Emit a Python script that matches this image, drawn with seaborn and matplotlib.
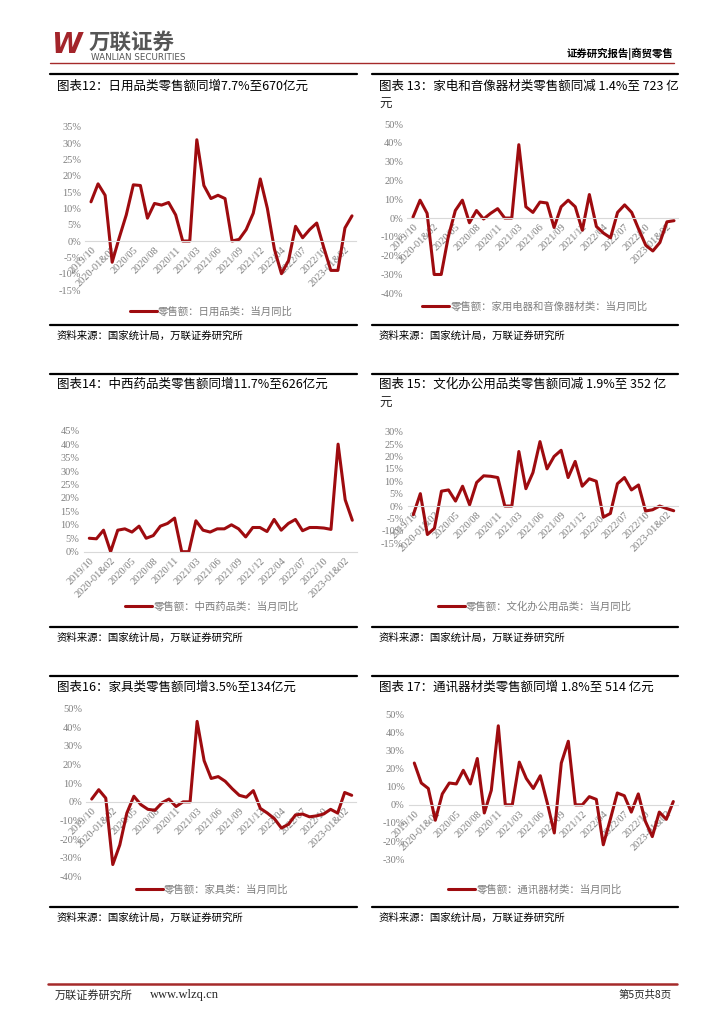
import numpy as np
import pandas as pd
import matplotlib
matplotlib.use('Agg')
import matplotlib.pyplot as plt
from matplotlib.lines import Line2D
import seaborn as sns

sns.set_theme(style="white")
plt.rcParams['font.family'] = ['Noto Sans CJK SC', 'DejaVu Sans']
plt.rcParams['axes.unicode_minus'] = False

W, H = 724, 1024
RED = '#9E0B0F'
GREY = '#7F7F7F'
SERIF = 'Liberation Serif'

# month categories (Jan & Feb merged)
months = ['2019/10', '2019/11', '2019/12',
          '2020-01&02', '2020/03', '2020/04', '2020/05', '2020/06', '2020/07',
          '2020/08', '2020/09', '2020/10', '2020/11', '2020/12',
          '2021-01&02', '2021/03', '2021/04', '2021/05', '2021/06', '2021/07',
          '2021/08', '2021/09', '2021/10', '2021/11', '2021/12',
          '2022-01&02', '2022/03', '2022/04', '2022/05', '2022/06', '2022/07',
          '2022/08', '2022/09', '2022/10', '2022/11', '2022/12',
          '2023-01&02', '2023/03']
tick_labels = months[::3]

# monthly yoy, %
daily = [12, 17.5, 14, -6.5, 1, 8, 17.2, 17, 7, 11.5, 11, 11.8, 8, 0, 0, 31,
         17, 13, 14, 13, 0, 0.5, 3.5, 8.5, 19, 10, -2.5, -10, -6, 4.5, 1, 3.5,
         5.5, -2, -9, -9, 4, 7.7]
appliance = [0.5, 9.5, 2.5, -30, -30, -10, 4, 9.5, -2.5, 4, -0.5, 2.5, 5, 0, 0,
             39, 6, 3, 8.5, 8, -5, 6, 9.5, 6, -6.5, 12.5, -4.5, -8, -10.5, 3, 7,
             3, -6, -14.5, -17.5, -13, -2, -1.4]
medicine = [5, 4.8, 8, 0, 8, 8.5, 7.3, 9.5, 5, 6, 9.5, 10.5, 12.5, 0, 0, 11.5,
            8, 7.3, 8.5, 8.5, 10, 8.5, 5.5, 9, 9, 7.5, 12, 8, 10.5, 12, 7.8, 9,
            9, 8.8, 8.3, 40, 19.3, 11.7]
office = [-3.5, 5, -11.5, -9, 6, 6.5, 2, 8, 0.5, 9.5, 12.2, 12, 11.5, 0, 0, 22,
          7, 13.5, 26, 15, 20, 22.5, 11.5, 18, 8, 11, 10, -4.5, -3, 9, 11.5,
          6.5, 8.5, -2, -1.5, 0, -1, -1.9]
furniture = [1.5, 6.5, 2, -33.5, -23, -6, 3, -1.5, -4, -4.5, -0.5, 1.5, -2.5, 0,
             0, 43, 22, 12.5, 13.5, 11, 7, 3.5, 2.5, 6, -3.5, -6, -9, -14, -12,
             -7, -6.5, -8, -7.5, -6.5, -4, -6, 5, 3.5]
telecom = [23, 12, 9, -8.5, 6, 12, 11.5, 19, 11.5, 25.5, -4.5, 8, 43.5, 0, 0,
           23.5, 14.5, 9, 16, 1, -15.5, 23, 35, 0, 0, 4.5, 3, -22, -8, 6.5, 5,
           -4, 6, -9, -17.5, -4, -8, 1.8]

titles = ['图表12：日用品类零售额同增7.7%至670亿元',
          '图表 13：家电和音像器材类零售额同减 1.4%至 723 亿',
          '图表14：中西药品类零售额同增11.7%至626亿元',
          '图表 15：文化办公用品类零售额同减 1.9%至 352 亿',
          '图表16：家具类零售额同增3.5%至134亿元',
          '图表 17：通讯器材类零售额同增 1.8%至 514 亿元']
legends = ['零售额：日用品类：当月同比',
           '零售额：家用电器和音像器材类：当月同比',
           '零售额：中西药品类：当月同比',
           '零售额：文化办公用品类：当月同比',
           '零售额：家具类：当月同比',
           '零售额：通讯器材类：当月同比']
source = '资料来源：国家统计局，万联证券研究所'

XMIN, XMAX = -0.8, 37.6

fig = plt.figure(figsize=(W / 100, H / 100), dpi=100)
fig.patch.set_facecolor('white')


def fy(y):
    return 1 - y / H


def hline(x0, x1, y, color='black', lw=1.6):
    fig.add_artist(Line2D([x0 / W, x1 / W], [fy(y), fy(y)],
                          transform=fig.transFigure, color=color, lw=lw))


def chart(values, x_first, x_last, ylo, yhi, ystep, top_px, bot_px,
          legend, leg_xy):
    n = len(months)
    step = (x_last - x_first) / (n - 1)
    left = x_first + XMIN * step
    right = x_first + XMAX * step
    ax = fig.add_axes([left / W, fy(bot_px), (right - left) / W,
                       (bot_px - top_px) / H])
    df = pd.DataFrame({'idx': np.arange(n), 'val': values})
    sns.lineplot(data=df, x='idx', y='val', ax=ax, color=RED, linewidth=2.2,
                 label=legend)
    # spine position first: it resets the ticks
    for s in ['top', 'right', 'left']:
        ax.spines[s].set_visible(False)
    ax.spines['bottom'].set_position(('data', 0))
    ax.spines['bottom'].set_color('#D9D9D9')
    ax.spines['bottom'].set_linewidth(0.8)
    ax.set_xlim(XMIN, XMAX)
    ax.set_ylim(ylo, yhi)
    yt = list(range(ylo, yhi + 1, ystep))
    ax.set_yticks(yt)
    ax.set_yticklabels([f'{v}%' for v in yt], fontfamily=SERIF, color=GREY,
                       fontsize=7.5)
    ax.set_xticks(np.arange(0, n, 3))
    ax.set_xticklabels(tick_labels, rotation=45, ha='right',
                       rotation_mode='anchor', fontfamily=SERIF, color=GREY,
                       fontsize=7.5)
    ax.tick_params(length=0, pad=3)
    ax.set_xlabel('')
    ax.set_ylabel('')
    ax.patch.set_alpha(0)
    ax.legend(loc='center', bbox_to_anchor=(leg_xy[0] / W, fy(leg_xy[1])),
              bbox_transform=fig.transFigure, frameon=False, fontsize=7.5,
              handlelength=2.6, handletextpad=0.1, labelcolor=GREY)
    return ax


# header
fig.text(51 / W, fy(45), 'W', fontsize=20, fontweight='bold', style='italic',
         color='#A3242A', family='DejaVu Sans', va='center', ha='left')
fig.text(89 / W, fy(42), '万联证券', fontsize=15.5, fontweight='bold',
         color='#555555', va='center', ha='left')
fig.text(91 / W, fy(57.5), 'WANLIAN SECURITIES', fontsize=6.3,
         color='#555555', family='DejaVu Sans', va='center', ha='left')
fig.text(673 / W, fy(54), '证券研究报告|商贸零售', fontsize=7.5,
         fontweight='bold', color='black', va='center', ha='right')
hline(50, 674, 62.7, color='#A52A2A', lw=1.0)

# panel frames
L0, L1, R0, R1 = 50, 357, 372, 678
rows = [(73.5, 86, 325, 336), (374, 384, 627, 638), (676, 687, 907, 918)]
for i, (top, ty, bot, sy) in enumerate(rows):
    for j, (x0, x1) in enumerate([(L0, L1), (R0, R1)]):
        hline(x0, x1, top)
        hline(x0, x1, bot)
        fig.text((x0 + 7) / W, fy(ty), titles[2 * i + j], fontsize=9,
                 va='center', ha='left', color='black')
        fig.text((x0 + 7) / W, fy(sy), source, fontsize=7.5, style='italic',
                 va='center', ha='left', color='black')
fig.text(379 / W, fy(104), '元', fontsize=9, va='center', ha='left')
fig.text(379 / W, fy(403), '元', fontsize=9, va='center', ha='left')

# charts
chart(daily, 91, 352, -15, 35, 5, 126.7, 290, legends[0], (211, 311.7))
chart(appliance, 413, 674, -40, 50, 10, 124, 293.3, legends[1], (535, 306.7))
chart(medicine, 89.3, 352.3, 0, 45, 5, 430.7, 551.7, legends[2], (212, 606.7))
chart(office, 413.3, 673.7, -15, 30, 5, 431.7, 543.2, legends[3], (535, 606.7))
chart(furniture, 91.7, 351.7, -40, 50, 10, 708.3, 876.7, legends[4], (212, 889))
chart(telecom, 414.3, 673.3, -30, 50, 10, 714, 859.3, legends[5], (535, 889))

# footer
hline(48, 677, 984, color='#A52A2A', lw=1.8)
fig.text(55 / W, fy(995), '万联证券研究所', fontsize=8, va='center', ha='left')
fig.text(150 / W, fy(995), 'www.wlzq.cn', fontsize=9, family=SERIF,
         va='center', ha='left')
fig.text(672 / W, fy(995), '第5页共8页', fontsize=7.5, va='center', ha='right')

fig.savefig('out.png', dpi=100)
